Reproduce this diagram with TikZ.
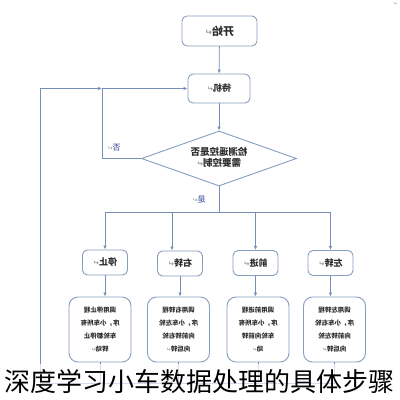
\documentclass[tikz,border=0pt]{standalone}
\usepackage{fontspec}
\usepackage{graphicx}
\usetikzlibrary{arrows.meta,shapes.geometric}
\setmainfont{Noto Sans CJK SC}
\newfontfamily\dejavu{DejaVu Sans}
\definecolor{lb}{RGB}{118,143,185}
\definecolor{bd}{RGB}{135,158,192}
\definecolor{tx}{RGB}{45,45,45}
\definecolor{lab}{RGB}{45,65,150}
\newcommand\parmk{{\dejavu\color{gray!80}\scalebox{0.8}{↵}}}
\newcommand\mir[1]{\reflectbox{#1}}
\begin{document}
\begin{tikzpicture}[x=1pt,y=-1pt,
  box/.style={draw=bd, line width=0.9pt, rounded corners=5pt, fill=white,
    font=\bfseries\fontsize{9}{11}\selectfont, text=tx, inner sep=1pt},
  detail/.style={box, rounded corners=9pt, minimum width=62pt, minimum height=65pt,
    font=\bfseries\fontsize{6.5}{13}\selectfont},
  conn/.style={draw=lb, line width=0.8pt},
  arr/.style={conn, -{Latex[length=4pt,width=3.5pt]}},
  lbl/.style={font=\fontsize{8}{9}\selectfont, text=lab, inner sep=0pt}]
\useasboundingbox (0,0) rectangle (400,400);
\fill[white] (0,0) rectangle (400,400);

% nodes
\node[box, minimum width=75pt, minimum height=30pt, font=\bfseries\fontsize{11}{12}\selectfont] (start) at (219.5,31) {\mir{开始\parmk}};
\node[box, minimum width=62pt, minimum height=29pt] (wait) at (219,88.5) {\mir{待机\parmk}};
\node[diamond, draw=bd, line width=0.9pt, aspect=2.8, inner sep=0pt, minimum width=155pt, minimum height=55pt,
  font=\bfseries\fontsize{9.5}{11}\selectfont, text=tx] (dia) at (219,158.5)
  {\mir{\begin{tabular}{@{}c@{}}检测遥控是否\\需要控制\parmk\end{tabular}}};

\node[box, minimum width=45pt, minimum height=25pt] (s1) at (105,262.5) {\mir{停止\parmk}};
\node[box, minimum width=45pt, minimum height=25pt] (s2) at (180,263.5) {\mir{右转\parmk}};
\node[box, minimum width=45pt, minimum height=25pt] (s3) at (255.5,263) {\mir{前进\parmk}};
\node[box, minimum width=45pt, minimum height=25pt] (s4) at (330.5,263) {\mir{左转\parmk}};

\node[detail] (d1) at (100,329.5) {\mir{\begin{tabular}{@{}c@{}}调用停止程\\序，小车所有\\车轮都停止\\转动\parmk\end{tabular}}};
\node[detail] (d2) at (178.5,329.5) {\mir{\begin{tabular}{@{}c@{}}调用右转程\\序，小车左轮\\向前转右轮\\向后转\parmk\end{tabular}}};
\node[detail] (d3) at (258,329.5) {\mir{\begin{tabular}{@{}c@{}}调用前进程\\序，小车所有\\车轮向前转\\动\parmk\end{tabular}}};
\node[detail] (d4) at (334.5,329.5) {\mir{\begin{tabular}{@{}c@{}}调用左转程\\序，小车右轮\\向前转左轮\\向后转\parmk\end{tabular}}};

% labels
\node[lbl] (no) at (114,148) {\mir{否\parmk}};
\node[lbl] (yes) at (199,200) {\mir{是\parmk}};
\node[inner sep=0pt, font=\fontsize{6}{6}\selectfont] (corner) at (395,4) {\mir{\parmk}};

% coordinates
\coordinate (nt) at (102,88.5);
\coordinate (lbot) at (40,383);
\coordinate (bt) at (219,212);
\coordinate (b1) at (105,212);
\coordinate (b2) at (172,212);
\coordinate (b3) at (255.5,212);
\coordinate (b4) at (330.5,212);

% connectors
\draw[arr] (start) -- (wait);
\draw[arr] (wait) -- (dia);
\draw[conn] (dia.west) -| (nt);
\draw[arr] (nt) -- (wait.west);
\draw[arr] (lbot) |- (nt);
\draw[conn] (dia.south) -- (bt);
\draw[conn] (b1) -- (b4);
\draw[arr] (b1) -- (s1);
\draw[arr] (b2) -- (b2 |- s2.north);
\draw[arr] (b3) -- (s3);
\draw[arr] (b4) -- (s4);
\draw[arr] (s1) -- (s1 |- d1.north);
\draw[arr] (s2) -- (s2 |- d2.north);
\draw[arr] (s3) -- (s3 |- d3.north);
\draw[arr] (s4) -- (s4 |- d4.north);
\draw[conn] (d1.south) -- (d1.south |- lbot);
\draw[conn] (d2.south) -- (d2.south |- lbot);
\draw[conn] (d3.south) -- (d3.south |- lbot);
\draw[conn] (d4.south) -- (d4.south |- lbot);
\draw[conn] (lbot) -- (d4.south |- lbot);

% caption
\fill[white, opacity=0.7] (0,364) rectangle (400,400);
\node[anchor=base, inner sep=0pt, font=\fontsize{26}{28}\selectfont, text=black] (cap) at (200,391) {深度学习小车数据处理的具体步骤};
\end{tikzpicture}
\end{document}
